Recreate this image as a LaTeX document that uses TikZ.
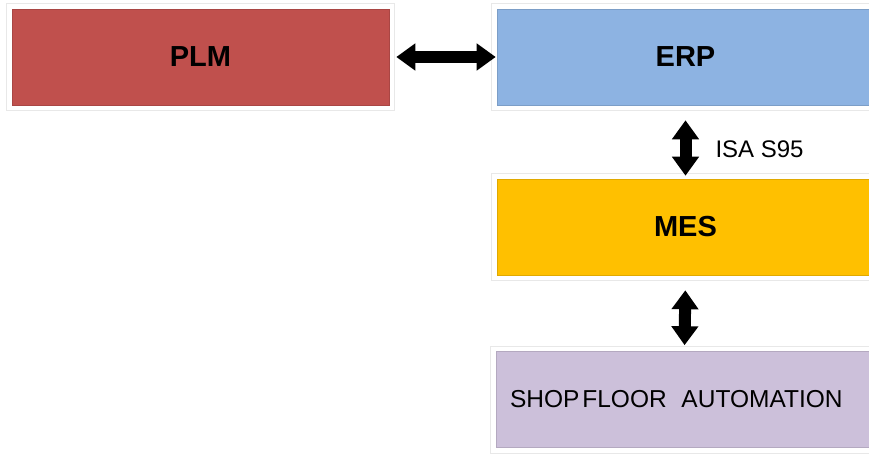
\documentclass[tikz,border=0pt]{standalone}
\usepackage{fontspec}
\setmainfont{Liberation Sans}
\usetikzlibrary{arrows.meta}
\definecolor{plmred}{HTML}{C0504D}
\definecolor{erpblue}{HTML}{8DB3E2}
\definecolor{mesgold}{HTML}{FFC000}
\definecolor{shoplilac}{HTML}{CCC0DA}

\begin{document}
\begin{tikzpicture}[
  x=1pt, y=-1pt,
  box/.style={minimum width=377pt, minimum height=96pt, inner sep=0pt, fill=#1, draw=#1!88!black, line width=0.6pt,
    preaction={draw=black!9, line width=12pt}, preaction={draw=white, line width=10pt},
    font=\fontsize{29}{31}\selectfont\bfseries},
  dblarr/.style={{Triangle[width=26pt,length=19pt]}-{Triangle[width=26pt,length=19pt]}, line width=12pt},
  lbl/.style={font=\fontsize{24}{26}\selectfont}
]
  \useasboundingbox (0,0) rectangle (869,454);
  \clip (0,0) rectangle (869,454);

  \node[box=plmred] (plm) at (200.5,57) {PLM};
  \node[box=erpblue] (erp) at (685.5,57) {ERP};
  \node[box=mesgold] (mes) at (685.5,227) {MES};
  \node[box=shoplilac, font=\fontsize{24.5}{26}\selectfont, text width=349pt, inner xsep=14pt, align=left] (shop) at (684.5,399.5)
    {SHOP\hspace{0.12em}FLOOR\hspace{0.6em}AUTOMATION};

  \node[lbl, anchor=west] (isa) at (712,149) {ISA S95};

  \draw[dblarr, shorten <=7pt, shorten >=1pt] (plm.east) -- (erp.west);
  \draw[dblarr, shorten <=15pt, shorten >=3pt] (erp.south) -- (mes.north);
  \draw[dblarr, shorten <=15pt, shorten >=6pt] (mes.south) -- (shop.north);
\end{tikzpicture}
\end{document}
